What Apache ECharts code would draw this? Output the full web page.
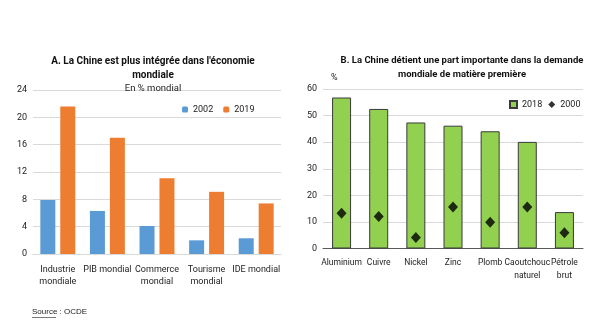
<!DOCTYPE html>
<html><head><meta charset="utf-8">
<script src="https://cdn.jsdelivr.net/npm/echarts@6/dist/echarts.min.js"></script>
<style>html,body{margin:0;padding:0;background:#fff}#c{width:600px;height:321px}</style>
</head><body><div id="c"></div>
<script>
const catA = ['Industrie\nmondiale','PIB mondial','Commerce\nmondial','Tourisme\nmondial','IDE mondial'];
const a2002 = [7.9, 6.3, 4.1, 2.0, 2.3];
const a2019 = [21.6, 17.0, 11.1, 9.1, 7.4];
const ticksA = [0,4,8,12,16,20,24];
const catB = ['Aluminium','Cuivre','Nickel','Zinc','Plomb','Caoutchouc\nnaturel','Pétrole\nbrut'];
const b2018 = [56.8, 52.5, 47.4, 46.2, 44.1, 40.1, 13.7];
const b2000 = [13.3, 12.0, 4.1, 15.6, 9.9, 15.6, 5.9];
const ticksB = [0,10,20,30,40,50,60];

const FONT = "'Liberation Sans Narrow','Arial Narrow',Roboto,sans-serif";
const chart = echarts.init(document.getElementById('c'));
const axisLbl = {fontFamily: FONT, fontSize: 9, color: '#222'};
chart.setOption({
  animation: false,
  textStyle: {fontFamily: FONT},
  title: [
    {text: "A. La Chine est plus intégrée dans l'économie\nmondiale", left: 148, top: 49, textAlign: 'center',
     textStyle: {fontFamily: FONT, fontSize: 10, fontWeight: 'bold', color: '#111', lineHeight: 14}},
    {text: 'En % mondial', left: 148, top: 79, textAlign: 'center',
     textStyle: {fontFamily: FONT, fontSize: 9.5, fontWeight: 'normal', color: '#222'}},
    {text: "B. La Chine détient une part importante dans la demande\nmondiale de matière première", left: 457, top: 49, textAlign: 'center',
     textStyle: {fontFamily: FONT, fontSize: 9.5, fontWeight: 'bold', color: '#111', lineHeight: 14}},
    {text: '%', left: 326, top: 68, textStyle: {fontFamily: FONT, fontSize: 9, fontWeight: 'normal', color: '#222'}}
  ],
  legend: [
    {data: ['2002','2019'], left: 177, top: 100, itemWidth: 6, itemHeight: 6, itemGap: 10,
     textStyle: {fontFamily: FONT, fontSize: 9, color: '#222'}},
    {data: [{name:'2018', icon:'rect'}, {name:'2000', icon:'diamond'}], left: 504, top: 95, itemWidth: 7, itemHeight: 7, itemGap: 6,
     textStyle: {fontFamily: FONT, fontSize: 9, color: '#222'}}
  ],
  grid: [
    {left: 33, top: 90, width: 248, height: 164},
    {left: 323, top: 89, width: 260, height: 159.5}
  ],
  xAxis: [
    {gridIndex: 0, type: 'category', data: catA, axisTick: {show: false},
     axisLine: {lineStyle: {color: '#d9d9d9'}}, axisLabel: Object.assign({margin: 10, lineHeight: 12, interval: 0}, axisLbl)},
    {gridIndex: 1, type: 'category', data: catB, axisTick: {show: false},
     axisLine: {lineStyle: {color: '#595959', width: 1}}, axisLabel: Object.assign({margin: 8, lineHeight: 13, interval: 0}, axisLbl, {fontSize: 8.5})}
  ],
  yAxis: [
    {gridIndex: 0, type: 'value', min: ticksA[0], max: ticksA[ticksA.length-1], interval: 4,
     splitLine: {lineStyle: {color: '#d9d9d9'}}, axisLabel: Object.assign({margin: 6}, axisLbl)},
    {gridIndex: 1, type: 'value', min: ticksB[0], max: ticksB[ticksB.length-1], interval: 10,
     splitLine: {lineStyle: {color: '#d9d9d9'}}, axisLabel: Object.assign({margin: 6}, axisLbl)}
  ],
  series: [
    {name: '2002', type: 'bar', xAxisIndex: 0, yAxisIndex: 0, data: a2002, barWidth: 15, barGap: '33%',
     itemStyle: {color: '#5B9BD5'}},
    {name: '2019', type: 'bar', xAxisIndex: 0, yAxisIndex: 0, data: a2019, barWidth: 15, barGap: '33%',
     itemStyle: {color: '#ED7D31'}},
    {name: '2018', type: 'bar', xAxisIndex: 1, yAxisIndex: 1, data: b2018, barWidth: 19,
     itemStyle: {color: '#92D050', borderColor: '#3a3a3a', borderWidth: 1}},
    {name: '2000', type: 'scatter', xAxisIndex: 1, yAxisIndex: 1, data: b2000, symbol: 'diamond', symbolSize: [10, 11],
     itemStyle: {color: '#000'}}
  ],
  graphic: [
    {type: 'text', left: 32, top: 308, style: {text: 'Source : OCDE', font: "8px 'Liberation Sans','Arial',sans-serif", fill: '#222'}},
    {type: 'rect', left: 32, top: 317, shape: {width: 24, height: 0.6}, style: {fill: '#222'}}
  ]
});
</script></body></html>
